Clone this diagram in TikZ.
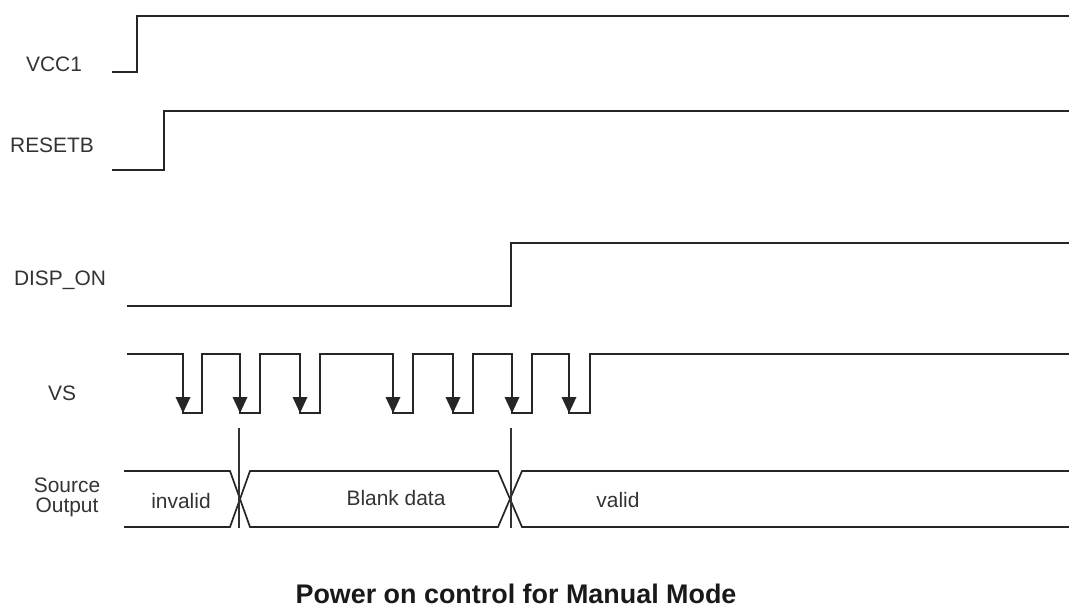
\documentclass[tikz,border=0pt]{standalone}
\usepackage{fontspec}
\setmainfont{Liberation Sans}
\begin{document}
\begin{tikzpicture}[x=1bp,y=-1bp,
  sig/.style={draw=black!85, line width=1.7bp, line join=miter},
  marker/.style={draw=black!80, line width=1.1bp},
  lbl/.style={text=black!80, font=\fontsize{21}{20}\selectfont, inner sep=0pt, align=center},
  ttl/.style={text=black!90, font=\fontsize{27}{28}\selectfont\bfseries, inner sep=0pt},
  tip/.style={fill=black!85}]
\useasboundingbox (0,0) rectangle (1069,610);
% VCC1
\draw[sig] (112,72) -- (137,72) -- (137,16) -- (1069,16);
% RESETB
\draw[sig] (112,170) -- (164,170) -- (164,111) -- (1069,111);
% DISP_ON
\draw[sig] (127,306) -- (511,306) -- (511,243) -- (1069,243);
% VS
\draw[sig] (127,354) -- (183,354) -- (183,413) -- (202,413) -- (202,354)
  -- (240,354) -- (240,413) -- (260,413) -- (260,354)
  -- (300,354) -- (300,413) -- (320,413) -- (320,354)
  -- (393,354) -- (393,413) -- (413,413) -- (413,354)
  -- (453,354) -- (453,413) -- (473,413) -- (473,354)
  -- (512,354) -- (512,413) -- (532,413) -- (532,354)
  -- (569,354) -- (569,413) -- (590,413) -- (590,354) -- (1069,354);
\foreach \x in {183,240,300,393,453,512,569}
  \fill[tip] (\x-7.5,397) -- (\x+7.5,397) -- (\x,413) -- cycle;
% Source output
\draw[sig] (124,471) -- (230,471) -- (250,527) -- (498,527) -- (522,471) -- (1069,471);
\draw[sig] (124,527) -- (230,527) -- (250,471) -- (498,471) -- (522,527) -- (1069,527);
\draw[marker] (239,428) -- (239,528);
\draw[marker] (511,428) -- (511,528);
% labels
\node[lbl] (vcc) at (54,64) {VCC1};
\node[lbl] (rst) at (52,145) {RESETB};
\node[lbl] (disp) at (60,280) {DISP\_ON};
\node[lbl] (vs) at (62,393) {VS};
\node[lbl] (so) at (67,497) {Source\\Output};
\node[lbl] (inv) at (181,501) {invalid};
\node[lbl] (blank) at (396,498) {Blank data};
\node[lbl] (valid) at (618,500) {valid};
\node[ttl] (title) at (516,594) {Power on control for Manual Mode};
\end{tikzpicture}
\end{document}
